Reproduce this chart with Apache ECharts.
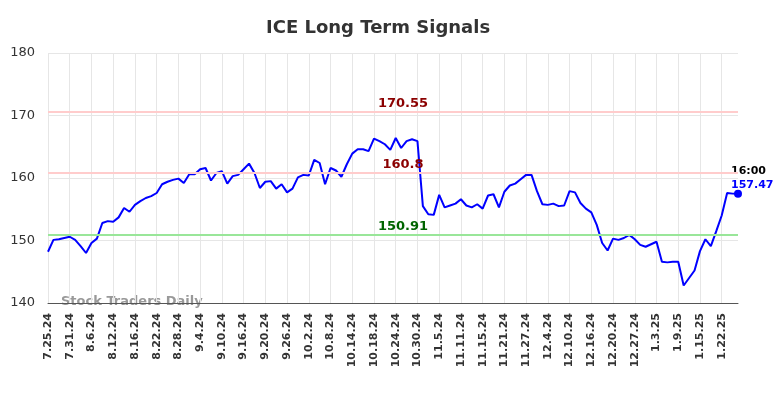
<!DOCTYPE html>
<html>
<head>
<meta charset="utf-8">
<script src="https://cdn.jsdelivr.net/npm/echarts@6/dist/echarts.min.js"></script>
<style>
	html, body { margin: 0; padding: 0; background: #fff; }
	#chart { width: 784px; height: 398px; }
</style>
</head>
<body>
<div id="chart"></div>
<script>
	// trading days, one per point
	var dates = [
		'7.25.24', '7.26.24', '7.29.24', '7.30.24', '7.31.24',
		'8.1.24', '8.2.24', '8.5.24', '8.6.24', '8.7.24', '8.8.24', '8.9.24', '8.12.24', '8.13.24', '8.14.24', '8.15.24', '8.16.24',
		'8.19.24', '8.20.24', '8.21.24', '8.22.24', '8.23.24', '8.26.24', '8.27.24', '8.28.24', '8.29.24', '8.30.24',
		'9.3.24', '9.4.24', '9.5.24', '9.6.24', '9.9.24', '9.10.24', '9.11.24', '9.12.24', '9.13.24', '9.16.24', '9.17.24',
		'9.18.24', '9.19.24', '9.20.24', '9.23.24', '9.24.24', '9.25.24', '9.26.24', '9.27.24', '9.30.24',
		'10.1.24', '10.2.24', '10.3.24', '10.4.24', '10.7.24', '10.8.24', '10.9.24', '10.10.24', '10.11.24', '10.14.24',
		'10.15.24', '10.16.24', '10.17.24', '10.18.24', '10.21.24', '10.22.24', '10.23.24', '10.24.24', '10.25.24',
		'10.28.24', '10.29.24', '10.30.24', '10.31.24',
		'11.1.24', '11.4.24', '11.5.24', '11.6.24', '11.7.24', '11.8.24', '11.11.24', '11.12.24', '11.13.24', '11.14.24',
		'11.15.24', '11.18.24', '11.19.24', '11.20.24', '11.21.24', '11.22.24', '11.25.24', '11.26.24', '11.27.24', '11.29.24',
		'12.2.24', '12.3.24', '12.4.24', '12.5.24', '12.6.24', '12.9.24', '12.10.24', '12.11.24', '12.12.24', '12.13.24',
		'12.16.24', '12.17.24', '12.18.24', '12.19.24', '12.20.24', '12.23.24', '12.24.24', '12.26.24', '12.27.24',
		'12.30.24', '12.31.24',
		'1.2.25', '1.3.25', '1.6.25', '1.7.25', '1.8.25', '1.9.25', '1.10.25', '1.13.25', '1.14.25', '1.15.25',
		'1.16.25', '1.17.25', '1.21.25', '1.22.25', '1.23.25', '1.24.25', '1.27.25'
	];

	var prices = [
		148.2, 150.1, 150.2, 150.4, 150.6, 150.1, 149.1, 148.0, 149.6, 150.3,
		152.8, 153.1, 153.0, 153.7, 155.2, 154.6, 155.7, 156.3, 156.8, 157.1,
		157.6, 159.0, 159.4, 159.7, 159.9, 159.2, 160.6, 160.6, 161.4, 161.6,
		159.6, 160.8, 161.1, 159.1, 160.3, 160.5, 161.4, 162.3, 160.8, 158.4,
		159.4, 159.5, 158.3, 159.0, 157.7, 158.3, 160.1, 160.5, 160.4, 162.9,
		162.4, 159.0, 161.6, 161.2, 160.2, 162.2, 163.9, 164.6, 164.6, 164.3,
		166.3, 165.9, 165.4, 164.5, 166.4, 164.8, 165.9, 166.2, 165.9, 155.5,
		154.2, 154.1, 157.3, 155.3, 155.6, 155.9, 156.6, 155.6, 155.3, 155.8,
		155.1, 157.2, 157.4, 155.3, 157.8, 158.8, 159.1, 159.8, 160.5, 160.5,
		157.9, 155.8, 155.7, 155.9, 155.5, 155.6, 157.9, 157.7, 156.0, 155.1,
		154.5, 152.5, 149.6, 148.4, 150.3, 150.1, 150.4, 150.9, 150.2, 149.3,
		149.0, 149.4, 149.8, 146.6, 146.5, 146.6, 146.6, 142.8, 144.0, 145.2,
		148.3, 150.2, 149.1, 151.5, 154.0, 157.6, 157.5, 157.47
	];

	var upperLevels = [170.55, 160.8];
	var lowerLevels = [150.91];
	var lastTime = '16:00';

	var chart = echarts.init(document.getElementById('chart'));

	var lineData = prices.map(function (v, i) {
		if (i == prices.length - 1) {
			return {
				value: v,
				symbol: 'circle',
				symbolSize: 8,
				label: {
					show: true,
					position: 'top',
					align: 'left',
					offset: [-7, 7],
					formatter: '{t|' + lastTime + '}\n{p|' + v + '}',
					rich: {
						t: { color: '#000', fontWeight: 'bold', fontSize: 11, fontFamily: 'DejaVu Sans', lineHeight: 14 },
						p: { color: '#0000ff', fontWeight: 'bold', fontSize: 11, fontFamily: 'DejaVu Sans', lineHeight: 14 }
					}
				}
			};
		}
		return { value: v, symbol: 'none' };
	});

	function levelLine(v, lineColor, textColor) {
		return {
			yAxis: v,
			lineStyle: { color: lineColor, width: 2, type: 'solid' },
			label: {
				show: true,
				position: 'middle',
				distance: 2,
				offset: [10, 0],
				formatter: String(v),
				color: textColor,
				fontWeight: 'bold',
				fontSize: 13,
				fontFamily: 'DejaVu Sans'
			}
		};
	}

	var marks = [];
	upperLevels.forEach(function (v) { marks.push(levelLine(v, '#ffcccc', '#8b0000')); });
	lowerLevels.forEach(function (v) { marks.push(levelLine(v, '#99e699', '#006400')); });

	var option = {
		animation: false,
		backgroundColor: '#fff',
		title: {
			text: 'ICE Long Term Signals',
			left: 261,
			top: 14,
			textStyle: { color: '#333', fontSize: 18, fontWeight: 'bold', fontFamily: 'DejaVu Sans' }
		},
		grid: { left: 48, right: 46, top: 53, bottom: 95 },
		xAxis: {
			type: 'category',
			data: dates,
			boundaryGap: false,
			axisLine: { show: true, lineStyle: { color: '#555', width: 1 } },
			axisTick: { show: false },
			axisLabel: {
				interval: 3,
				rotate: 90,
				color: '#333',
				fontWeight: 'bold',
				fontSize: 11,
				fontFamily: 'DejaVu Sans',
				margin: 10
			},
			splitLine: { show: true, interval: 3, lineStyle: { color: '#e6e6e6', width: 1 } }
		},
		yAxis: {
			type: 'value',
			min: 140,
			max: 180,
			interval: 10,
			axisLine: { show: false },
			axisTick: { show: false },
			axisLabel: { color: '#333', fontSize: 13, fontFamily: 'DejaVu Sans', margin: 13 },
			splitLine: { lineStyle: { color: '#e6e6e6', width: 1 } }
		},
		graphic: [{
			type: 'text',
			left: 61,
			top: 295,
			style: { text: 'Stock Traders Daily', fill: '#999', font: 'bold 13px "DejaVu Sans"' }
		}],
		series: [{
			type: 'line',
			data: lineData,
			showSymbol: true,
			showAllSymbol: true,
			clip: false,
			itemStyle: { color: '#0000ff' },
			lineStyle: { color: '#0000ff', width: 2 },
			markLine: {
				silent: true,
				symbol: 'none',
				data: marks
			}
		}]
	};

	chart.setOption(option);
</script>
</body>
</html>
